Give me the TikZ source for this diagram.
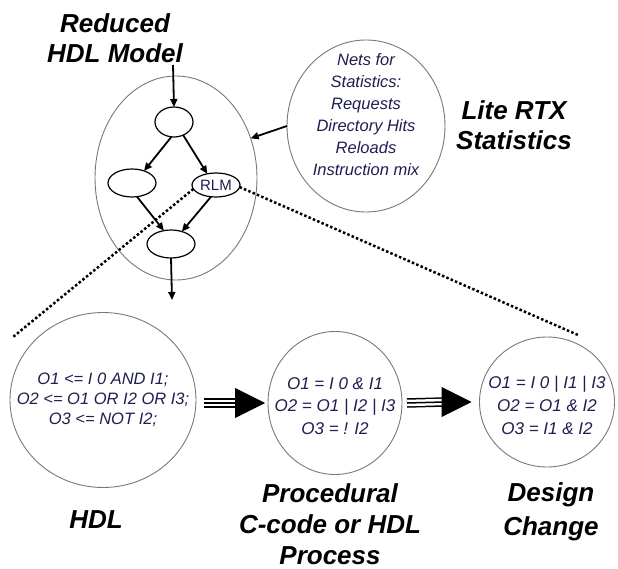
\documentclass[tikz,border=0pt]{standalone}
\usepackage{fontspec}
\setmainfont{Liberation Sans}
\usetikzlibrary{arrows.meta,shapes.geometric,calc}
\definecolor{txt}{RGB}{30,30,80}
\definecolor{ringc}{RGB}{120,120,120}
\begin{document}
\begin{tikzpicture}[x=1pt,y=-1pt,
  ring/.style={draw=ringc,line width=0.9pt,ellipse,inner sep=0pt,outer sep=0pt},
  small/.style={draw=black,line width=1.2pt,ellipse,inner sep=0pt,outer sep=0pt},
  arr/.style={line width=1.8pt,-{Triangle[length=8pt,width=7pt]}},
  dots/.style={line width=2.5pt,dash pattern=on 2.5pt off 2.2pt},
  title/.style={font=\fontsize{26}{30}\selectfont\bfseries\itshape,align=center},
  code/.style={text=txt,align=center},
  tripleout/.style={line width=1.5pt,double=white,double distance=6.5pt},
  triplein/.style={line width=1.5pt},
  bigtip/.style={line width=1pt,-{Triangle[length=30pt,width=30pt]}}
]
\useasboundingbox (0,0) rectangle (618,569);

% upper model
\node[ring,minimum width=162pt,minimum height=204pt] (model) at (176,178) {};
\node[small,minimum width=38pt,minimum height=30pt] (n1) at (174,122) {};
\node[small,minimum width=48pt,minimum height=28pt] (n2) at (132,183) {};
\node[small,minimum width=48pt,minimum height=24pt,font=\fontsize{15}{15}\selectfont,text=txt] (rlm) at (216,185) {RLM};
\node[small,minimum width=48pt,minimum height=28pt] (n4) at (171,244) {};

\coordinate (in) at (173,65);
\coordinate (out) at (172,300);
\draw[arr] (in) -- (n1.north);
\draw[arr] (n1.260) -- (n2.45);
\draw[arr] (n1.305) -- (rlm.128);
\draw[arr] (n2.290) -- (n4.118);
\draw[arr] (rlm.247) -- (n4.49);
\draw[arr] (n4.south) -- (out);

% statistics
\node[ring,minimum width=158pt,minimum height=172pt] (stats) at (366,126) {};
\node[code,font=\fontsize{16.5}{22}\selectfont\itshape] (statstxt) at (366,115) {Nets for\\Statistics:\\Requests\\Directory Hits\\Reloads\\Instruction mix};
\draw[arr] (stats.west) -- (model.28);

% dotted zoom lines
\coordinate (dl) at (13,337);
\coordinate (dr) at (578,335);
\draw[dots] (rlm.190) -- (dl);
\draw[dots] (rlm.355) -- (dr);

% bottom circles
\node[ring,minimum width=186pt,minimum height=175pt] (hdl) at (103,400) {};
\node[ring,minimum width=134pt,minimum height=143pt] (proc) at (335,403) {};
\node[ring,minimum width=135pt,minimum height=130pt] (des) at (547,402) {};

\node[code,font=\fontsize{16.5}{20}\selectfont\itshape] (hdltxt) at (103,400) {O1 <= I 0 AND I1;\\O2 <= O1 OR I2 OR I3;\\O3 <= NOT I2;};
\node[code,font=\fontsize{17}{22.5}\selectfont\itshape] (proctxt) at (335,406) {O1 = I 0 \& I1\\O2 = O1 | I2 | I3\\O3 = ! I2};
\node[code,font=\fontsize{17}{23}\selectfont\itshape] (destxt) at (547,405) {O1 = I 0 | I1 | I3\\O2 = O1 \& I2\\O3 = I1 \& I2};

% big triple arrows
\draw[tripleout] ($(hdl.east |- proc.west)+(8,0)$) -- ($(proc.west)+(-30,0)$);
\draw[triplein] ($(hdl.east |- proc.west)+(8,0)$) -- ($(proc.west)+(-30,0)$);
\draw[bigtip] ($(proc.west)+(-35,0)$) -- ($(proc.west)+(-3,0)$);

\draw[tripleout] ($(proc.east)+(5,0)$) -- ($(des.west)+(-36,0)$);
\draw[triplein] ($(proc.east)+(5,0)$) -- ($(des.west)+(-36,0)$);
\draw[bigtip] ($(des.west)+(-41,0)$) -- ($(des.west)+(-8,0)$);

% titles
\node[title] (t1) at (115,38) {Reduced\\HDL Model};
\node[title] (t2) at (514,125) {Lite RTX\\Statistics};
\node[title] (t3) at (96,520) {HDL};
\node[title,font=\fontsize{26}{31}\selectfont\bfseries\itshape] (t4) at (330,524) {Procedural\\C-code or HDL\\Process};
\node[title,font=\fontsize{26}{34}\selectfont\bfseries\itshape] (t5) at (551,512) {Design\\Change};
\end{tikzpicture}
\end{document}
